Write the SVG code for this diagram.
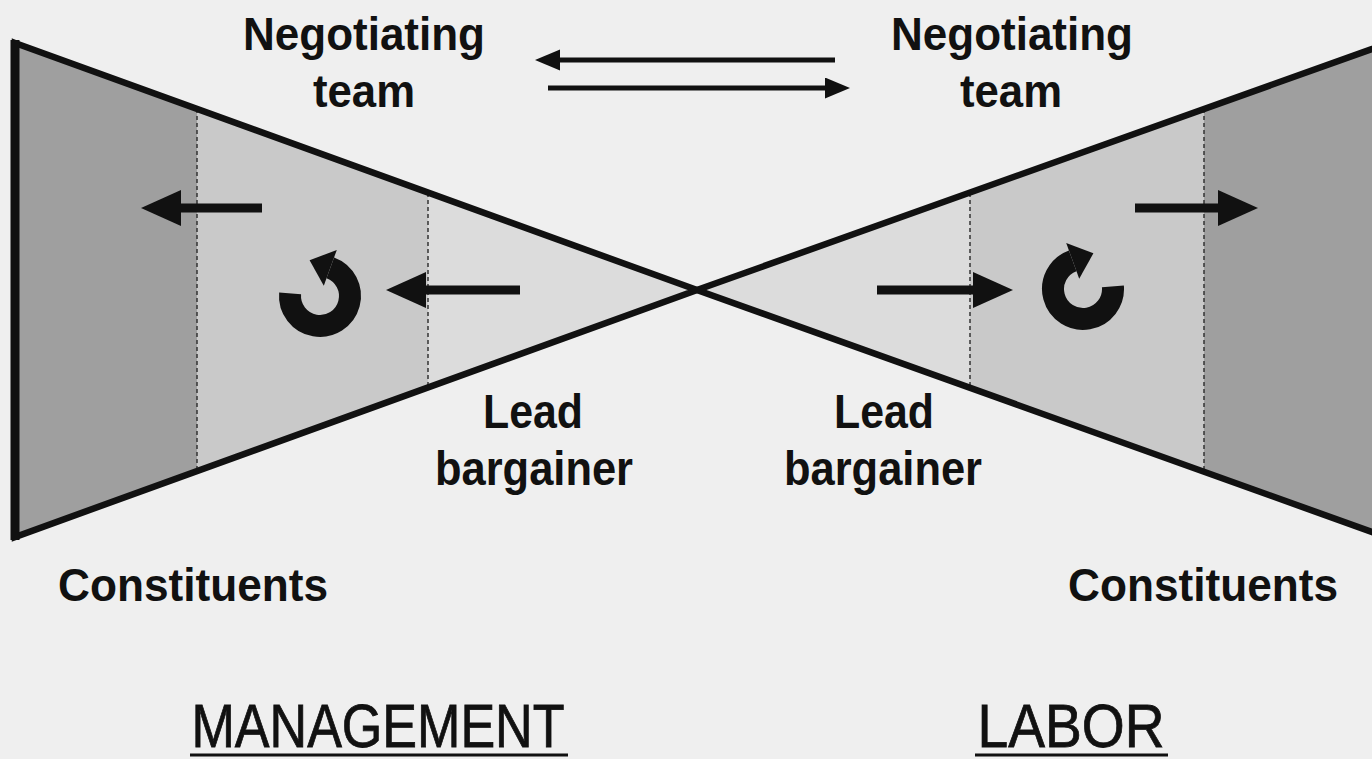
<svg xmlns="http://www.w3.org/2000/svg" width="1372" height="759" viewBox="0 0 1372 759">
<style>
.bold{font-family:"Liberation Sans",Arial,sans-serif;font-weight:bold;fill:#111;text-anchor:middle}
.reg{font-family:"Liberation Sans",Arial,sans-serif;fill:#111;stroke:#111;stroke-width:0.8;text-anchor:middle}
.outline{fill:none;stroke:#111;stroke-width:6.5;stroke-linejoin:miter}
.dash{stroke:#333;stroke-width:1.5;stroke-dasharray:4 3;fill:none}
.thick{stroke:#111;stroke-width:9;fill:none}
.thin{stroke:#111;stroke-width:5;fill:none}
.ul{stroke:#111;stroke-width:3}
</style>
<defs>
<marker id="bigHead" markerUnits="userSpaceOnUse" markerWidth="42" markerHeight="38" refX="0" refY="18" orient="auto">
<path d="M0,0 L40,18 L0,36 z" fill="#111"/>
</marker>
<marker id="smallHead" markerUnits="userSpaceOnUse" markerWidth="26" markerHeight="22" refX="0" refY="10.5" orient="auto">
<path d="M0,0 L25,10.5 L0,21 z" fill="#111"/>
</marker>
<g id="cycle">
<path d="M-29.9,-2.6 A30,30 0 1 0 10.3,-28.2" fill="none" stroke="#111" stroke-width="22"/>
<path d="M16.8,-46.1 L-10.4,-35.7 L3.8,-10.3 z" fill="#111"/>
</g>
<clipPath id="clipL"><polygon points="15,43 697,290 15,537"/></clipPath>
<clipPath id="clipR"><polygon points="1400,39 697,290 1400,542"/></clipPath>
</defs>
<rect width="1372" height="759" fill="#efefef"/>
<g id="management-wedge">
<g clip-path="url(#clipL)">
<rect x="0" y="0" width="700" height="759" fill="#dcdcdc"/>
<rect x="197" y="0" width="231" height="759" fill="#c9c9c9"/>
<rect x="0" y="0" width="197" height="759" fill="#9f9f9f"/>
</g>
<line class="dash" x1="197" y1="109" x2="197" y2="471"/>
<line class="dash" x1="428" y1="193" x2="428" y2="387"/>
<polygon class="outline" points="15,43 697,290 15,537"/>
<line x1="15" y1="40" x2="15" y2="540" stroke="#111" stroke-width="9"/>
<use href="#cycle" x="320" y="296"/>
</g>
<g id="labor-wedge">
<g clip-path="url(#clipR)">
<rect x="690" y="0" width="700" height="759" fill="#dcdcdc"/>
<rect x="970" y="0" width="234" height="759" fill="#c9c9c9"/>
<rect x="1204" y="0" width="200" height="759" fill="#9f9f9f"/>
</g>
<line class="dash" x1="970" y1="193" x2="970" y2="388"/>
<line class="dash" x1="1204" y1="109" x2="1204" y2="472"/>
<polygon class="outline" points="1400,39 697,290 1400,542"/>
<use href="#cycle" transform="translate(1083,289) scale(-1,1)"/>
</g>
<g id="connectors">
<line class="thin" x1="835" y1="60" x2="560" y2="60" marker-end="url(#smallHead)"/>
<line class="thin" x1="548" y1="88" x2="825" y2="88" marker-end="url(#smallHead)"/>
<line class="thick" x1="262" y1="208" x2="181" y2="208" marker-end="url(#bigHead)"/>
<line class="thick" x1="520" y1="290" x2="426" y2="290" marker-end="url(#bigHead)"/>
<line class="thick" x1="877" y1="290" x2="973" y2="290" marker-end="url(#bigHead)"/>
<line class="thick" x1="1135" y1="208" x2="1218" y2="208" marker-end="url(#bigHead)"/>
</g>
<g id="neg-team-left">
<text class="bold" x="364" y="50" font-size="46" textLength="242" lengthAdjust="spacingAndGlyphs">Negotiating</text>
<text class="bold" x="364" y="107" font-size="46" textLength="102" lengthAdjust="spacingAndGlyphs">team</text>
</g>
<g id="neg-team-right">
<text class="bold" x="1012" y="50" font-size="46" textLength="242" lengthAdjust="spacingAndGlyphs">Negotiating</text>
<text class="bold" x="1011" y="107" font-size="46" textLength="102" lengthAdjust="spacingAndGlyphs">team</text>
</g>
<g id="lead-left">
<text class="bold" x="533" y="428" font-size="49" textLength="100" lengthAdjust="spacingAndGlyphs">Lead</text>
<text class="bold" x="534" y="485" font-size="49" textLength="198" lengthAdjust="spacingAndGlyphs">bargainer</text>
</g>
<g id="lead-right">
<text class="bold" x="884" y="428" font-size="49" textLength="100" lengthAdjust="spacingAndGlyphs">Lead</text>
<text class="bold" x="883" y="485" font-size="49" textLength="198" lengthAdjust="spacingAndGlyphs">bargainer</text>
</g>
<g id="constituents-left">
<text class="bold" x="193" y="601" font-size="46" textLength="270" lengthAdjust="spacingAndGlyphs">Constituents</text>
</g>
<g id="constituents-right">
<text class="bold" x="1203" y="601" font-size="46" textLength="270" lengthAdjust="spacingAndGlyphs">Constituents</text>
</g>
<g id="management-label">
<text class="reg" x="378" y="747" font-size="62" textLength="373" lengthAdjust="spacingAndGlyphs">MANAGEMENT</text>
<line class="ul" x1="190" y1="755" x2="568" y2="755"/>
</g>
<g id="labor-label">
<text class="reg" x="1071" y="747" font-size="62" textLength="187" lengthAdjust="spacingAndGlyphs">LABOR</text>
<line class="ul" x1="975" y1="755" x2="1168" y2="755"/>
</g>
</svg>
